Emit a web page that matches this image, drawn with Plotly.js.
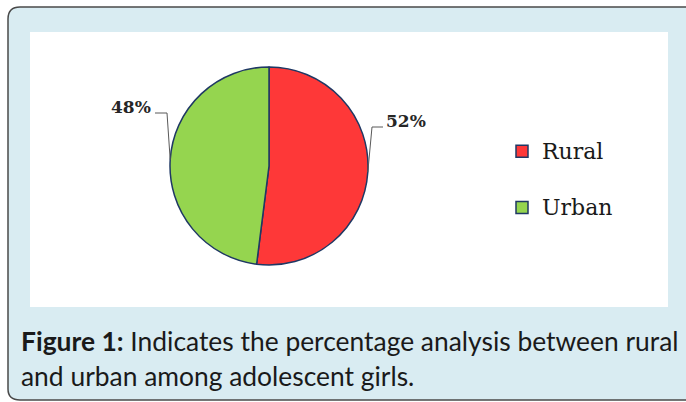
<!DOCTYPE html>
<html>
<head>
<meta charset="utf-8">
<script src="https://cdn.plot.ly/plotly-3.0.1.min.js"></script>
<style>
  html, body { margin: 0; padding: 0; background: #ffffff; }
  #chart { width: 686px; height: 402px; }
</style>
</head>
<body>
<div id="chart"></div>
<script>
// ---- data ----
const categories = ["Rural", "Urban"];
const percentValues = [52, 48];
const sliceColors = ["#fe3838", "#95d54f"];
const captionBold = "Figure 1:";
const captionLine1 = " Indicates the percentage analysis between rural";
const captionLine2 = "and urban among adolescent girls.";

// ---- layout helpers (pixel -> paper) ----
const W = 686, H = 402;
const px = x => x / W;
const py = y => 1 - y / H;

// pie geometry (pixels)
const cx = 269, cy = 166, R = 99;

// caption font size fitted to reference width
function fitSize(family, target) {
  const c = document.createElement("canvas").getContext("2d");
  c.font = "bold 100px " + family;
  let w = c.measureText(captionBold).width;
  c.font = "100px " + family;
  w += c.measureText(captionLine1).width;
  return 100 * target / w;
}
const capFamily = "Lato";
const capSize = fitSize(capFamily, 658);

// leader line anchor points computed from the data (slice mid angles, clockwise from 12 o'clock)
const total = percentValues.reduce((a, b) => a + b, 0);
let acc = 0;
const edge = percentValues.map(v => {
  const mid = (acc + v / 2) / total * 2 * Math.PI;
  acc += v;
  return [cx + R * Math.sin(mid), cy - R * Math.cos(mid)];
});

const labelSpecs = [
  { elbow: [372, 127], end: [383, 127], text: percentValues[0] + "%", x: 384, y: 121, anchor: "left" },
  { elbow: [167, 113], end: [155, 113], text: percentValues[1] + "%", x: 153, y: 107, anchor: "right" }
];

const shapes = [
  // outer rounded box
  {
    type: "path", xref: "paper", yref: "paper", layer: "below",
    path: `M ${px(710)},${py(7)} L ${px(20)},${py(7)} Q ${px(8)},${py(7)} ${px(8)},${py(19)} L ${px(8)},${py(389)} Q ${px(8)},${py(400)} ${px(20)},${py(400)} L ${px(710)},${py(400)} Z`,
    fillcolor: "#d9ecf2", line: { color: "#4a4a4a", width: 1.5 }
  },
  // white chart panel
  {
    type: "rect", xref: "paper", yref: "paper", layer: "below",
    x0: px(30), x1: px(668), y0: py(307), y1: py(32),
    fillcolor: "#ffffff", line: { width: 0 }
  }
];
labelSpecs.forEach((s, i) => {
  shapes.push({
    type: "path", xref: "paper", yref: "paper", layer: "above",
    path: `M ${px(edge[i][0])},${py(edge[i][1])} L ${px(s.elbow[0])},${py(s.elbow[1])} L ${px(s.end[0])},${py(s.end[1])}`,
    line: { color: "#595959", width: 1 }
  });
});

const annotations = labelSpecs.map(s => ({
  xref: "paper", yref: "paper", x: px(s.x), y: py(s.y),
  xanchor: s.anchor, yanchor: "middle", showarrow: false,
  text: "<b>" + s.text + "</b>",
  font: { family: "DejaVu Serif", size: 17, color: "#262626" }
}));
annotations.push({
  xref: "paper", yref: "paper", x: px(19), y: py(341), xanchor: "left", yanchor: "middle",
  showarrow: false, align: "left",
  text: "<b>" + captionBold + "</b>" + captionLine1,
  font: { family: capFamily, size: capSize, color: "#1a1a1a" }
});
annotations.push({
  xref: "paper", yref: "paper", x: px(19), y: py(376), xanchor: "left", yanchor: "middle",
  showarrow: false, align: "left",
  text: captionLine2,
  font: { family: capFamily, size: capSize, color: "#1a1a1a" }
});

const trace = {
  type: "pie",
  labels: categories.map(c => `<span style="font-size:22px;baseline-shift:8px">${c}</span>`),
  values: percentValues,
  sort: false,
  direction: "clockwise",
  rotation: 0,
  textinfo: "none",
  hoverinfo: "label+percent",
  marker: { colors: sliceColors, line: { color: "#1f3864", width: 1.5 } },
  domain: { x: [px(cx - R), px(cx + R)], y: [py(cy + R), py(cy - R)] }
};

const layout = {
  width: W, height: H,
  margin: { l: 0, r: 0, t: 0, b: 0 },
  paper_bgcolor: "rgba(0,0,0,0)",
  plot_bgcolor: "rgba(0,0,0,0)",
  showlegend: true,
  legend: {
    x: px(502), y: py(118), xanchor: "left", yanchor: "top",
    bgcolor: "rgba(0,0,0,0)",
    font: { family: "DejaVu Serif", size: 41, color: "#1a1a1a" }
  },
  shapes: shapes,
  annotations: annotations
};

Plotly.newPlot("chart", [trace], layout, { displayModeBar: false, staticPlot: true });
</script>
</body>
</html>
